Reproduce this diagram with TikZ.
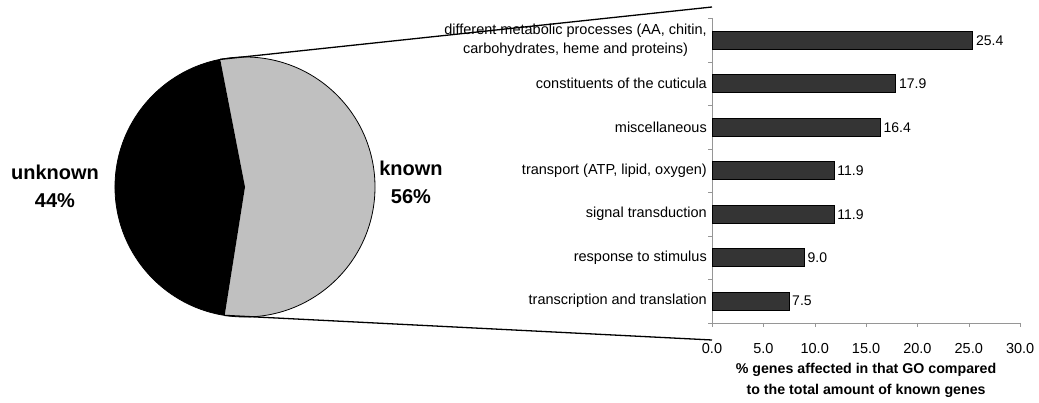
\documentclass[tikz,border=0pt]{standalone}
\usepackage{fontspec}
\setmainfont{Liberation Sans}
\usetikzlibrary{positioning}
\definecolor{pielight}{RGB}{192,192,192}
\definecolor{bardark}{RGB}{52,52,52}
\definecolor{axisgray}{RGB}{150,150,150}

\begin{document}
\begin{tikzpicture}[x=1pt, y=1pt, node distance=7pt and 2pt,
  pielabel/.style={font=\fontsize{20}{28}\selectfont\bfseries, align=center},
  catlabel/.style={font=\fontsize{14.5}{19}\selectfont, anchor=east, align=center, inner sep=1pt},
  vallabel/.style={font=\fontsize{14}{16}\selectfont, anchor=west, inner sep=1pt},
  ticklabel/.style={font=\fontsize{14.5}{16}\selectfont, inner sep=1pt},
  axistitle/.style={font=\fontsize{14.2}{21}\selectfont\bfseries, align=center, inner sep=1pt},
  barbox/.style={draw=black, fill=bardark, line width=0.8pt}]
  \useasboundingbox (0,0) rectangle (1039,403);
  % pie
  \coordinate (c) at (245,216);
  \fill[pielight] (c) -- ++(101:130) arc[start angle=101, end angle=-99, radius=130] -- cycle;
  \fill[black] (c) -- ++(101:130) arc[start angle=101, end angle=261, radius=130] -- cycle;
  \draw[line width=0.8pt] (c) circle[radius=130];
  \path (c) ++(101:130) coordinate (ptop);
  \path (c) ++(261:130) coordinate (pbot);
  \node[pielabel] (unknown) at (55,217) {unknown\\44\%};
  \node[pielabel] (known) at (411,221) {known\\56\%};
  % axes
  \coordinate (o) at (712,80);
  \draw[axisgray] (712,385) -- (o) -- (1020,80);
  \foreach \k in {0,...,7}
    \draw[axisgray] (712,80+43.5*\k) -- ++(-4,0);
  \foreach \v in {0,5,...,30} {
    \draw[axisgray] (712+10.27*\v,80) -- ++(0,-4);
    \node[ticklabel] (tick\v) at (712+10.27*\v,54) {\v.0};
  }
  \node[axistitle, below=of tick15] (xtitle) {\% genes affected in that GO compared\\to the total amount of known genes};
  % bars
  \foreach \i/\val/\lab in {0/7.5/transcription and translation,
                            1/9.0/response to stimulus,
                            2/11.9/signal transduction,
                            3/11.9/{transport (ATP, lipid, oxygen)},
                            4/16.4/miscellaneous,
                            5/17.9/constituents of the cuticula,
                            6/25.4/{different metabolic processes (AA, chitin,\\carbohydrates, heme and proteins)}} {
    \draw[barbox] (712,92.75+43.5*\i) rectangle (712+10.27*\val,110.75+43.5*\i);
    \node[vallabel] (val\i) at (714+10.27*\val,101.75+43.5*\i) {\val};
    \node[catlabel] (cat\i) at (708,101.75+43.5*\i) {\lab};
  }
  % zoom lines
  \coordinate (ctop) at (712,396);
  \coordinate (cbot) at (712,63);
  \draw[line width=1.3pt] (ptop) -- (ctop);
  \draw[line width=1.3pt] (pbot) -- (cbot);
\end{tikzpicture}
\end{document}
